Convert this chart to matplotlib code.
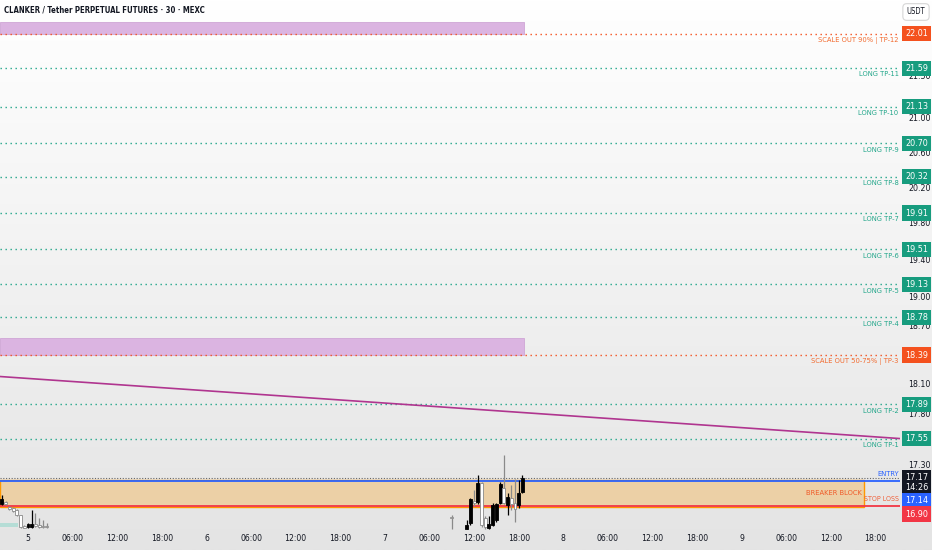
import numpy as np
import matplotlib
matplotlib.use('Agg')
import matplotlib.pyplot as plt
from matplotlib import font_manager
from matplotlib.font_manager import FontProperties
from matplotlib.patches import Rectangle
from matplotlib.colors import LinearSegmentedColormap
from matplotlib.ticker import NullLocator, NullFormatter, FuncFormatter

# time in hours from day 5 00:00, 30 min bars
left_time = [-3.5, -3.0, -2.5, -2.0, -1.5, -1.0, -0.5, 0.0, 0.5, 1.0, 1.5, 2.0, 2.5]
left_open = [16.92, 16.94, 16.89, 16.88, 16.86, 16.82, 16.71, 16.70, 16.70, 16.73, 16.72, 16.71, 16.71]
left_high = [17.00, 16.95, 16.90, 16.89, 16.87, 16.82, 16.72, 16.74, 16.86, 16.83, 16.79, 16.77, 16.74]
left_low = [16.91, 16.91, 16.86, 16.84, 16.81, 16.69, 16.69, 16.69, 16.69, 16.70, 16.69, 16.69, 16.69]
left_close = [16.97, 16.92, 16.87, 16.85, 16.82, 16.70, 16.69, 16.73, 16.73, 16.71, 16.70, 16.70, 16.70]

right_time = [57.0, 59.0, 59.5, 60.0, 60.5, 61.0, 61.5, 62.0, 62.5, 63.0, 63.5, 64.0, 64.5, 65.0, 65.5, 66.0, 66.5]
right_open = [16.80, 16.68, 16.74, 16.95, 16.94, 17.12, 16.79, 16.69, 16.72, 16.77, 16.93, 17.07, 16.91, 16.98, 16.93, 16.91, 17.03]
right_high = [16.82, 16.77, 16.98, 17.05, 17.20, 17.13, 16.81, 16.81, 16.93, 16.93, 17.13, 17.39, 17.02, 17.10, 17.16, 17.15, 17.20]
right_low = [16.68, 16.68, 16.72, 16.90, 16.92, 16.70, 16.68, 16.68, 16.71, 16.75, 16.92, 16.92, 16.82, 16.86, 16.75, 16.88, 17.02]
right_close = [16.79, 16.72, 16.97, 16.93, 17.12, 16.72, 16.70, 16.73, 16.91, 16.92, 17.11, 16.93, 16.99, 16.92, 16.87, 17.02, 17.17]

tp_prices = [17.55, 17.89, 18.78, 19.13, 19.51, 19.91, 20.32, 20.70, 21.13, 21.59]
tp_names = ['LONG TP-1', 'LONG TP-2', 'LONG TP-4', 'LONG TP-5', 'LONG TP-6',
            'LONG TP-7', 'LONG TP-8', 'LONG TP-9', 'LONG TP-10', 'LONG TP-11']
scale_prices = [18.39, 22.01]
scale_names = ['SCALE OUT 50-75% | TP-3', 'SCALE OUT 90% | TP-12']

entry_price = 17.14
stop_price = 16.90
last_price = 17.17
countdown = '14:26'

block_top = 17.145
block_bottom = 16.895
block_end = 112.4

zone_top = [22.15, 18.57]
zone_bottom = [22.01, 18.39]
zone_end = 66.7

trend_time = [-3.77, 117.3]
trend_price = [18.17, 17.55]

teal_top = 16.74
teal_bottom = 16.70
teal_end = -1.35

price_ticks = [17.30, 17.80, 18.10, 18.70, 19.00, 19.40, 19.80, 20.20, 20.60, 21.00, 21.50]
time_ticks = [0, 6, 12, 18, 24, 30, 36, 42, 48, 54, 60, 66, 72, 78, 84, 90, 96, 102, 108, 114]
time_labels = ['5', '06:00', '12:00', '18:00', '6', '06:00', '12:00', '18:00', '7', '06:00',
               '12:00', '18:00', '8', '06:00', '12:00', '18:00', '9', '06:00', '12:00', '18:00']

ORANGE = '#f4511e'
ORANGE_TXT = '#f26a2e'
TEAL = '#179c7e'
TEAL_TXT = '#22a68a'
BLUE = '#2962ff'
RED = '#f23645'
DARK = '#131722'

# look for a narrow font, the chart text is condensed
narrow_reg = None
narrow_bold = None
for f in font_manager.fontManager.ttflist:
    fn = f.fname.replace('\\', '/').split('/')[-1]
    if fn in ('LiberationSansNarrow-Regular.ttf', 'DejaVuSansCondensed.ttf') and narrow_reg is None:
        narrow_reg = f.fname
    if fn in ('LiberationSansNarrow-Bold.ttf', 'DejaVuSansCondensed-Bold.ttf') and narrow_bold is None:
        narrow_bold = f.fname
HAVE_NARROW = narrow_reg is not None


def font(size, bold=False):
    if HAVE_NARROW:
        path = narrow_bold if (bold and narrow_bold) else narrow_reg
        return FontProperties(fname=path, size=size)
    return FontProperties(family='Liberation Sans', size=size * 0.85,
                          weight='bold' if bold else 'normal')


def draw_candles(ax, t, o, h, l, c):
    for i in range(len(t)):
        up = c[i] >= o[i]
        if up:
            fc, ec, wc = '#000000', '#000000', '#000000'
        else:
            fc, ec, wc = '#ffffff', '#8a8a8a', '#8a8a8a'
        ax.vlines(t[i], l[i], h[i], color=wc, lw=0.9, zorder=5)
        body = max(abs(c[i] - o[i]), 0.006)
        ax.bar(t[i], body, bottom=min(o[i], c[i]), width=0.4, color=fc,
               edgecolor=ec, lw=0.6, zorder=6)


def price_box(ax, text, price, color, dy=0.0):
    ax.annotate(text, xy=(1, price), xycoords=('axes fraction', 'data'),
                xytext=(3.6, dy), textcoords='offset points', ha='left', va='center',
                fontproperties=font(6.5), color='white', annotation_clip=False, zorder=20,
                linespacing=1.15,
                bbox=dict(boxstyle='square,pad=0.35', fc=color, ec='none'))


def line_label(ax, text, price, color, dy=-4.5, size=5.4):
    ax.annotate(text, xy=(1, price), xycoords=('axes fraction', 'data'),
                xytext=(-1, dy), textcoords='offset points', ha='right', va='center',
                fontproperties=font(size), color=color, zorder=15)


fig = plt.figure(figsize=(9.32, 5.5), dpi=100)

bg = fig.add_axes([0, 0, 1, 1])
grad = np.linspace(0, 1, 256).reshape(-1, 1)
cmap = LinearSegmentedColormap.from_list('bg', ['#ffffff', '#e4e4e4'])
bg.imshow(grad, aspect='auto', cmap=cmap, extent=[0, 1, 0, 1], origin='upper')
bg.axis('off')

ax = fig.add_axes([0, 20 / 550, 900 / 932, 530 / 550])
ax.set_facecolor('none')
ax.set_yscale('log')
ax.set_xlim(-3.766, 117.28)
ax.set_ylim(16.675, 22.43)
for s in ax.spines.values():
    s.set_visible(False)

# purple zones
for top, bot in zip(zone_top, zone_bottom):
    ax.add_patch(Rectangle((-3.766, bot), zone_end + 3.766, top - bot,
                           fc='#dbb4e1', ec='#cfa6d6', lw=0.6, zorder=2))

# breaker block
ax.add_patch(Rectangle((-3.766, block_bottom), block_end + 3.766, block_top - block_bottom,
                       fc='#ecd0a6', ec='#ff9800', lw=1.0, zorder=2))
ax.add_patch(Rectangle((-3.766, teal_bottom), teal_end + 3.766, teal_top - teal_bottom,
                       fc='#b5ddd6', ec='none', zorder=2))

# levels
for p in tp_prices:
    ax.axhline(p, color=TEAL_TXT, lw=1.0, ls=(0, (1, 2.6)), zorder=3)
for p in scale_prices:
    ax.axhline(p, color=ORANGE, lw=1.0, ls=(0, (1, 2.6)), zorder=3)
ax.axhline(last_price, color='#666666', lw=0.8, ls=(0, (1, 1.5)), zorder=3)
ax.axhline(entry_price, color=BLUE, lw=1.3, zorder=4)
ax.axhline(stop_price, color=RED, lw=1.3, zorder=4)

# trend line
ax.plot(trend_time, trend_price, color='#b0358f', lw=1.2, zorder=4)

draw_candles(ax, left_time, left_open, left_high, left_low, left_close)
draw_candles(ax, right_time, right_open, right_high, right_low, right_close)

for p, n in zip(tp_prices, tp_names):
    line_label(ax, n, p, TEAL_TXT)
    price_box(ax, f'{p:.2f}', p, TEAL)
for p, n in zip(scale_prices, scale_names):
    line_label(ax, n, p, ORANGE_TXT)
    price_box(ax, f'{p:.2f}', p, ORANGE)

line_label(ax, 'ENTRY', entry_price, BLUE, dy=5)
line_label(ax, 'STOP LOSS', stop_price, '#f0603a', dy=5, size=5.0)
mid = np.sqrt(block_top * block_bottom)
ax.annotate('BREAKER BLOCK', xy=(block_end, mid), xytext=(-1.5, 0), textcoords='offset points',
            ha='right', va='center', fontproperties=font(5.4), color='#f05a28', zorder=15)

price_box(ax, f'{last_price:.2f}\n{countdown}', last_price, DARK, dy=-3.6)
price_box(ax, f'{entry_price:.2f}', entry_price, BLUE, dy=-14.5)
price_box(ax, f'{stop_price:.2f}', stop_price, RED, dy=-5.8)

ax.yaxis.tick_right()
ax.set_yticks(price_ticks)
ax.yaxis.set_minor_locator(NullLocator())
ax.yaxis.set_minor_formatter(NullFormatter())
ax.yaxis.set_major_formatter(FuncFormatter(lambda v, pos: f'{v:.2f}'))
ax.tick_params(axis='y', length=0, pad=6, labelcolor=DARK)
for lbl in ax.get_yticklabels():
    lbl.set_fontproperties(font(6.3))

ax.set_xticks(time_ticks)
ax.set_xticklabels(time_labels)
ax.tick_params(axis='x', length=0, pad=3, labelcolor=DARK)
for lbl in ax.get_xticklabels():
    lbl.set_fontproperties(font(6.2))

fig.text(4 / 932, 1 - 10 / 550, 'CLANKER / Tether PERPETUAL FUTURES · 30 · MEXC',
         fontproperties=font(5.6, bold=True), color=DARK, va='center', ha='left')
fig.text(916 / 932, 1 - 12 / 550, 'USDT', fontproperties=font(5.5), color=DARK,
         va='center', ha='center',
         bbox=dict(boxstyle='round,pad=0.5', fc='white', ec='#d6d6d6', lw=0.8))

fig.savefig('out.png', dpi=100)
